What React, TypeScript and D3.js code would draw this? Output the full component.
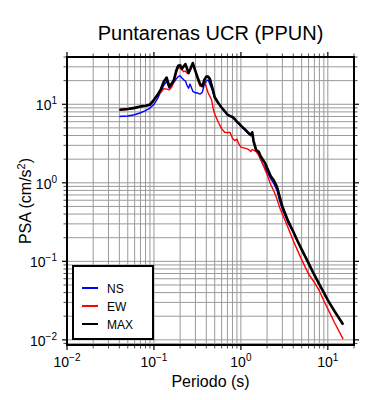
import React from "react";
import * as d3 from "d3";

// periods (s) and spectral accelerations (cm/s^2)
const periods = [
  0.04, 0.05, 0.06, 0.07, 0.08, 0.09, 0.1, 0.11, 0.12, 0.13,
  0.14, 0.15, 0.16, 0.17, 0.18, 0.19, 0.2, 0.21, 0.22, 0.23,
  0.24, 0.25, 0.26, 0.28, 0.3, 0.32, 0.34, 0.36, 0.38, 0.4,
  0.42, 0.44, 0.46, 0.48, 0.5, 0.55, 0.6, 0.65, 0.7, 0.75,
  0.8, 0.85, 0.9, 0.95, 1.0, 1.1, 1.2, 1.3, 1.35, 1.4,
  1.5, 1.6, 1.7, 1.8, 1.9, 2.0, 2.2, 2.4, 2.6, 2.8,
  3.0, 3.5, 4.0, 4.5, 5.0, 6.0, 7.0, 8.0, 9.0, 10,
  12, 15,
];

const psaNS = [
  7.0, 7.1, 7.35, 7.8, 8.3, 8.95, 10.0, 11.8, 14.5, 17.5,
  19.5, 16.0, 17.5, 19.0, 21.0, 22.5, 23.0, 21.6, 20.5, 19.9,
  17.5, 16.0, 18.1, 14.6, 14.0, 13.9, 13.5, 14.2, 18.0, 19.8,
  20.5, 18.0, 16.0, 14.0, 12.0, 10.3, 9.0, 8.1, 7.3, 7.05,
  6.85, 6.4, 5.9, 5.6, 5.25, 4.75, 4.3, 4.0, 4.1, 3.3,
  2.5, 2.3, 1.95, 1.7, 1.55, 1.38, 1.13, 0.97, 0.8, 0.58,
  0.46, 0.305, 0.235, 0.177, 0.14, 0.094, 0.066, 0.05, 0.04, 0.032,
  0.023, 0.0155,
];

const psaEW = [
  8.4, 8.6, 8.9, 9.3, 9.5, 9.8, 11.2, 12.8, 14.2, 15.8,
  15.6, 15.3, 16.5, 19.5, 24.5, 29.4, 29.0, 27.5, 26.0, 26.5,
  25.0, 24.5, 27.0, 31.8, 26.2, 20.0, 17.0, 17.5, 19.5, 16.5,
  14.0, 12.6, 11.4, 8.8, 7.5, 5.9, 4.9, 4.4, 4.35, 4.4,
  3.7, 3.45, 3.6, 3.1, 2.85, 2.77, 2.7, 2.5, 2.65, 2.6,
  2.5, 2.25, 1.95, 1.7, 1.46, 1.28, 0.95, 0.78, 0.62, 0.48,
  0.4, 0.265, 0.183, 0.137, 0.105, 0.069, 0.054, 0.042, 0.0315, 0.0248,
  0.0164, 0.0102,
];

const psaMAX = [
  8.5, 8.7, 9.0, 9.4, 9.6, 9.9, 11.4, 13.2, 15.5, 19.5,
  21.9, 16.9, 18.3, 20.5, 26.5, 31.0, 31.5, 28.3, 30.5, 32.5,
  28.5, 25.0, 27.5, 33.5, 26.5, 21.5, 18.0, 17.0, 20.5, 22.5,
  22.5, 21.1, 17.5, 14.8, 12.3, 10.4, 9.1, 8.2, 7.4, 7.1,
  6.9, 6.5, 6.0, 5.7, 5.35, 4.85, 4.4, 4.05, 4.4, 3.4,
  2.6, 2.5, 2.15, 1.95, 1.78, 1.55, 1.22, 1.07, 0.89, 0.66,
  0.5, 0.325, 0.24, 0.18, 0.142, 0.095, 0.067, 0.051, 0.04, 0.032,
  0.023, 0.0157,
];

const seriesNames = ["NS", "EW", "MAX"];
const seriesColors = ["#0000ff", "#ff0000", "#000000"];
const seriesWidths = [1.4, 1.4, 2.6];

const majorTicks = [0.01, 0.1, 1, 10];
const majorExps = ["\u22122", "\u22121", "0", "1"];

const FONT = "'Liberation Sans', Arial, Helvetica, sans-serif";

const App: React.FC = () => {
  const width = 390;
  const height = 400;
  const left = 67;
  const right = 354;
  const top = 57;
  const bottom = 345;

  const x = d3.scaleLog().domain([0.01, 20]).range([left, right]);
  const y = d3.scaleLog().domain([0.0086, 40]).range([bottom, top]);

  const xMinor = x.ticks();
  const yMinor = y.ticks();
  const isMajor = (v: number) =>
    majorTicks.some((m) => Math.abs(v - m) / m < 1e-6);

  const series = [psaNS, psaEW, psaMAX];
  const line = (vals: number[]) =>
    d3
      .line<number>()
      .x((_, i) => x(periods[i]))
      .y((d) => y(d))(vals) || "";

  // legend box
  const lg = { x0: 73, y0: 266, x1: 153, y1: 339 };
  const legendRows = [288, 306, 324];

  return (
    <svg
      width={width}
      height={height}
      style={{ position: "absolute", left: 0, top: 0, background: "#fff" }}
      fontFamily={FONT}
    >
      <rect x={0} y={0} width={width} height={height} fill="#fff" />

      {/* grid */}
      <g stroke="#9a9a9a" strokeWidth={1}>
        {xMinor.map((v, i) => (
          <line key={"gx" + i} x1={x(v)} x2={x(v)} y1={top} y2={bottom} />
        ))}
        {yMinor.map((v, i) => (
          <line key={"gy" + i} x1={left} x2={right} y1={y(v)} y2={y(v)} />
        ))}
      </g>

      {/* ticks on all four sides */}
      <g stroke="#000">
        {xMinor.map((v, i) => {
          const len = isMajor(v) ? 5 : 3.5;
          const w = isMajor(v) ? 1.2 : 0.7;
          return (
            <g key={"tx" + i} strokeWidth={w}>
              <line x1={x(v)} x2={x(v)} y1={bottom} y2={bottom + len} />
              <line x1={x(v)} x2={x(v)} y1={top} y2={top - len} />
            </g>
          );
        })}
        {yMinor.map((v, i) => {
          const len = isMajor(v) ? 5 : 3.5;
          const w = isMajor(v) ? 1.2 : 0.7;
          return (
            <g key={"ty" + i} strokeWidth={w}>
              <line x1={left} x2={left - len} y1={y(v)} y2={y(v)} />
              <line x1={right} x2={right + len} y1={y(v)} y2={y(v)} />
            </g>
          );
        })}
      </g>

      {/* curves */}
      {series.map((vals, i) => (
        <path
          key={"s" + i}
          d={line(vals)}
          fill="none"
          stroke={seriesColors[i]}
          strokeWidth={seriesWidths[i]}
          strokeLinejoin="round"
        />
      ))}

      {/* frame */}
      <rect
        x={left}
        y={top}
        width={right - left}
        height={bottom - top}
        fill="none"
        stroke="#000"
        strokeWidth={2}
      />

      {/* tick labels */}
      {majorTicks.map((v, i) => (
        <text
          key={"lx" + i}
          x={x(v)}
          y={367}
          fontSize={14}
          textAnchor="middle"
        >
          10
          <tspan fontSize={10} dy={-6}>
            {majorExps[i]}
          </tspan>
        </text>
      ))}
      {majorTicks.map((v, i) => (
        <text
          key={"ly" + i}
          x={57}
          y={y(v) + 6}
          fontSize={14}
          textAnchor="end"
        >
          10
          <tspan fontSize={10} dy={-6}>
            {majorExps[i]}
          </tspan>
        </text>
      ))}

      {/* axis titles */}
      <text x={(left + right) / 2} y={40} fontSize={20} textAnchor="middle">
        Puntarenas UCR (PPUN)
      </text>
      <text x={(left + right) / 2} y={387} fontSize={16} textAnchor="middle">
        Periodo (s)
      </text>
      <text
        transform={`translate(31,${(top + bottom) / 2}) rotate(-90)`}
        fontSize={16}
        textAnchor="middle"
      >
        PSA (cm/s
        <tspan fontSize={11} dy={-6}>
          2
        </tspan>
        <tspan dy={6}>)</tspan>
      </text>

      {/* legend */}
      <rect
        x={lg.x0}
        y={lg.y0}
        width={lg.x1 - lg.x0}
        height={lg.y1 - lg.y0}
        fill="#fff"
        stroke="#000"
        strokeWidth={2}
      />
      {seriesNames.map((name, i) => (
        <g key={"lg" + i}>
          <line
            x1={82}
            x2={98}
            y1={legendRows[i]}
            y2={legendRows[i]}
            stroke={seriesColors[i]}
            strokeWidth={2}
          />
          <text x={107} y={legendRows[i] + 4.5} fontSize={12}>
            {name}
          </text>
        </g>
      ))}
    </svg>
  );
};

export default App;
